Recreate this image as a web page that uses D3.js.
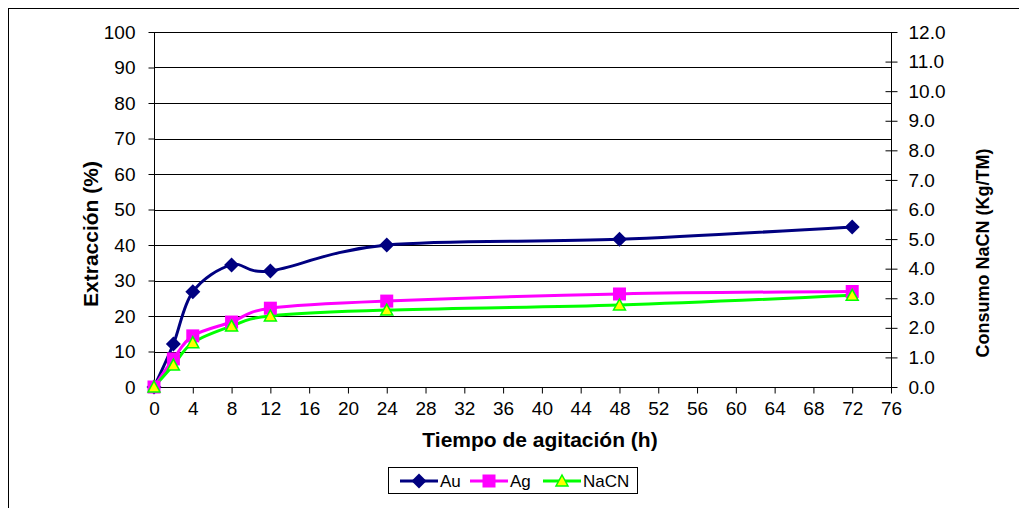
<!DOCTYPE html>
<html><head><meta charset="utf-8">
<script src="https://cdn.jsdelivr.net/npm/d3@7"></script>
<style>body{margin:0;background:#fff;} svg{display:block;} text{font-family:"Liberation Sans",Arial,sans-serif;}</style>
</head><body>
<script>
const hours = [0, 2, 4, 8, 12, 24, 48, 72];
const au = [0, 12.1, 26.8, 34.4, 32.7, 40.0, 41.6, 45.1];
const ag = [0, 7.9, 14.4, 18.3, 22.2, 24.2, 26.2, 26.9];
const nacn = [0, 0.74, 1.5, 2.06, 2.4, 2.6, 2.77, 3.1];
const xTicks = d3.range(0, 77, 4);
const yLeftTicks = d3.range(0, 101, 10);
const yRightTicks = d3.range(0, 12.01, 1);

const W = 1019, H = 508;
const svg = d3.select("body").append("svg").attr("width", W).attr("height", H);
svg.append("rect").attr("x", 8.5).attr("y", 8.5).attr("width", 1030).attr("height", 520)
  .attr("fill", "#fff").attr("stroke", "#000").attr("stroke-width", 1);

const x = d3.scaleLinear().domain([0, 76]).range([154, 891]);
const yL = d3.scaleLinear().domain([0, 100]).range([387, 32]);
const yR = d3.scaleLinear().domain([0, 12]).range([387, 32]);

// gridlines
svg.append("g").selectAll("line").data(yLeftTicks.filter(d => d > 0)).join("line")
  .attr("x1", 154).attr("x2", 891).attr("y1", d => Math.round(yL(d)) + 0.5).attr("y2", d => Math.round(yL(d)) + 0.5)
  .attr("stroke", "#000").attr("stroke-width", 1);

const fs = 19;
const gL = svg.append("g").attr("transform", "translate(154.5,0)")
  .call(d3.axisLeft(yL).tickValues(yLeftTicks).tickSize(6).tickPadding(13).tickFormat(d3.format("d")));
const gR = svg.append("g").attr("transform", "translate(891.5,0)")
  .call(d3.axisRight(yR).tickValues(yRightTicks).tickSize(6).tickPadding(11).tickFormat(d3.format(".1f")));
gR.selectAll(".tick line").attr("x1", -6);
const gX = svg.append("g").attr("transform", "translate(0,387.5)")
  .call(d3.axisBottom(x).tickValues(xTicks).tickSize(6).tickPadding(8).tickFormat(d3.format("d")));
[gL, gR, gX].forEach(g => {
  g.select(".domain").remove();
  g.selectAll("text").attr("font-size", fs).attr("fill", "#000").style("font-family", "'Liberation Sans', Arial, sans-serif");
  g.selectAll(".tick line").attr("stroke", "#000");
});
svg.append("line").attr("x1", 154.5).attr("x2", 154.5).attr("y1", 32).attr("y2", 388).attr("stroke", "#000");
svg.append("line").attr("x1", 891.5).attr("x2", 891.5).attr("y1", 32).attr("y2", 388).attr("stroke", "#000");
svg.append("line").attr("x1", 154).attr("x2", 892).attr("y1", 387.5).attr("y2", 387.5).attr("stroke", "#000");

// titles
svg.append("text").attr("x", 540).attr("y", 447).attr("text-anchor", "middle")
  .attr("font-size", 21).attr("font-weight", "bold").text("Tiempo de agitación (h)");
svg.append("text").attr("transform", "translate(98,234) rotate(-90)").attr("text-anchor", "middle")
  .attr("font-size", 21).attr("font-weight", "bold").text("Extracción (%)");
svg.append("text").attr("transform", "translate(989,253) rotate(-90)").attr("text-anchor", "middle")
  .attr("font-size", 18).attr("font-weight", "bold").text("Consumo NaCN (Kg/TM)");

const curve = d3.curveCatmullRom.alpha(0);
const series = [
  {name: "Au", vals: au, y: yL, color: "#000080", marker: "diamond"},
  {name: "Ag", vals: ag, y: yL, color: "#FF00FF", marker: "square"},
  {name: "NaCN", vals: nacn, y: yR, color: "#00FF00", marker: "triangle"}
];
function drawMarker(g, type, cx, cy, color) {
  if (type === "diamond") {
    g.append("path").attr("d", `M${cx},${cy-7.5}L${cx+7.5},${cy}L${cx},${cy+7.5}L${cx-7.5},${cy}Z`).attr("fill", color);
  } else if (type === "square") {
    g.append("rect").attr("x", cx-6.5).attr("y", cy-6.5).attr("width", 13).attr("height", 13).attr("fill", color);
  } else {
    g.append("path").attr("d", `M${cx},${cy-6}L${cx+6},${cy+5}L${cx-6},${cy+5}Z`).attr("fill", "#FFFF00").attr("stroke", color).attr("stroke-width", 1.5);
  }
}
series.forEach(s => {
  const line = d3.line().x((d, i) => x(hours[i])).y(d => s.y(d)).curve(curve);
  svg.append("path").datum(s.vals).attr("d", line).attr("fill", "none").attr("stroke", s.color).attr("stroke-width", 3);
});
series.forEach(s => {
  const g = svg.append("g");
  s.vals.forEach((v, i) => drawMarker(g, s.marker, x(hours[i]), s.y(v), s.color));
});

// legend
const lg = svg.append("g");
lg.append("rect").attr("x", 388.5).attr("y", 467.5).attr("width", 249).attr("height", 26).attr("fill", "#fff").attr("stroke", "#000");
const lx = [400, 470, 543];
series.forEach((s, i) => {
  const cy = 481;
  lg.append("line").attr("x1", lx[i]).attr("x2", lx[i] + 38).attr("y1", cy).attr("y2", cy).attr("stroke", s.color).attr("stroke-width", 3);
  drawMarker(lg, s.marker, lx[i] + 19, cy, s.color);
  lg.append("text").attr("x", lx[i] + 40).attr("y", cy + 6).attr("font-size", 17).text(s.name);
});
</script>
</body></html>
